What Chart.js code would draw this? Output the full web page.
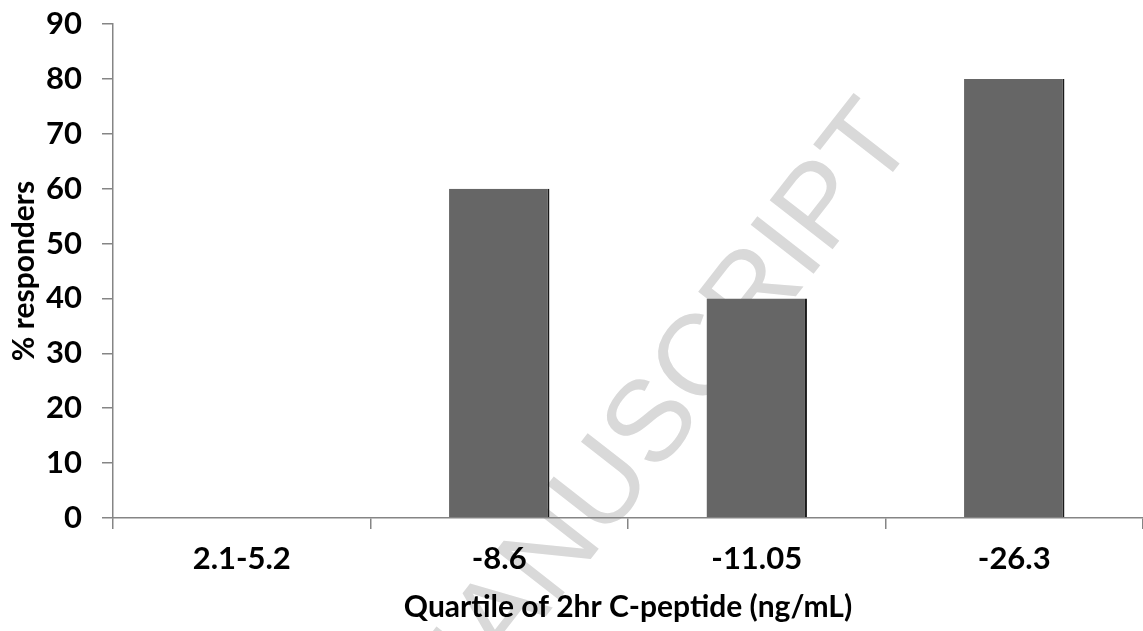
<!DOCTYPE html>
<html>
<head>
<meta charset="utf-8">
<script src="https://cdn.jsdelivr.net/npm/chart.js@4/dist/chart.umd.min.js"></script>
<style>
  html, body { margin: 0; padding: 0; background: #fff; }
  #wrap { width: 1143px; height: 631px; }
</style>
</head>
<body>
<div id="wrap"><canvas id="c"></canvas></div>
<script>
"use strict";

// % responders per quartile of 2hr C-peptide
const QUARTILES = ["2.1-5.2", "-8.6", "-11.05", "-26.3"];
const RESPONDERS = [0, 60, 40, 80];
const Y_MAX = 90, Y_STEP = 10;

const FONT = "Lato, 'Open Sans', sans-serif";

// faint diagonal watermark behind the plot
const watermark = {
  id: "watermark",
  beforeDraw(chart) {
    const ctx = chart.ctx;
    ctx.save();
    ctx.translate(918, 140);
    ctx.rotate(-52 * Math.PI / 180);
    ctx.font = "116px 'Liberation Sans', Arial, sans-serif";
    ctx.fillStyle = "#d9d9d9";
    ctx.textAlign = "right";
    ctx.textBaseline = "alphabetic";
    ctx.fillText("ACCEPTED MANUSCRIPT", 0, 0);
    ctx.restore();
  },
};

new Chart(document.getElementById("c"), {
  type: "bar",
  data: {
    labels: QUARTILES,
    datasets: [{
      data: RESPONDERS,
      backgroundColor: "#666666",
      borderColor: "#1a1a1a",
      borderWidth: { top: 0, right: 2, bottom: 0, left: 0 },
      borderSkipped: false,
      barPercentage: 0.39,
      categoryPercentage: 1,
    }],
  },
  options: {
    responsive: true, maintainAspectRatio: false, animation: false,
    layout: { padding: { top: 24, right: 0, bottom: 0, left: 0 } },
    plugins: { legend: { display: false }, tooltip: { enabled: false } },
    scales: {
      x: {
        afterFit: (s) => { s.height = 113; },
        border: { color: "#858585", width: 1.5 },
        grid: { display: true, drawOnChartArea: false, offset: true, tickLength: 11, color: "#858585", lineWidth: 1.5 },
        ticks: { color: "#000", padding: 11, font: { family: FONT, size: 31, weight: "bold" } },
        title: { display: true, text: "Quartile of 2hr C-peptide (ng/mL)", color: "#000",
                 padding: { top: 0, bottom: 6 }, font: { family: FONT, size: 30, weight: "bold" } },
      },
      y: {
        min: 0, max: Y_MAX,
        afterFit: (s) => { s.width = 113; },
        border: { color: "#858585", width: 1.5 },
        grid: { display: true, drawOnChartArea: false, tickLength: 11, color: "#858585", lineWidth: 1.5 },
        ticks: { stepSize: Y_STEP, color: "#000", padding: 20,
                 font: { family: FONT, size: 31, weight: "bold", lineHeight: 0.2 } },
        title: { display: true, text: "% responders", color: "#000",
                 padding: { top: 6, bottom: 0 }, font: { family: FONT, size: 30, weight: "bold" } },
      },
    },
  },
  plugins: [watermark],
});
</script>
</body>
</html>
